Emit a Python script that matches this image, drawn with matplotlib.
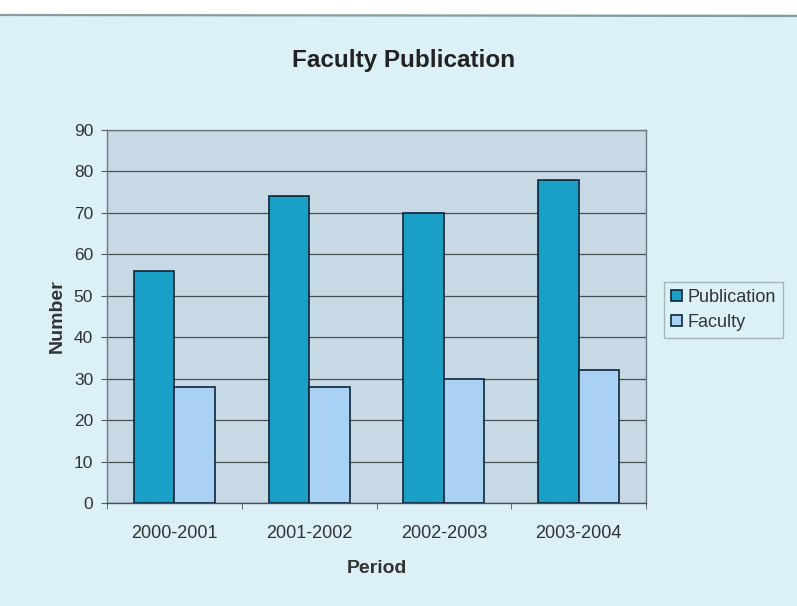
import matplotlib
matplotlib.use("Agg")
import matplotlib.pyplot as plt
import numpy as np
from matplotlib.patches import Rectangle
from matplotlib.lines import Line2D

periods = ["2000-2001", "2001-2002", "2002-2003", "2003-2004"]
publication = [56, 74, 70, 78]
faculty = [28, 28, 30, 32]
yticks = list(range(0, 91, 10))

PAPER = "#dcf0f8"
PLOT_BG = "#c6d9e5"
PUB_COLOR = "#1a9fc6"
FAC_COLOR = "#a9d1f4"
EDGE = "#10243a"

plt.rcParams["font.family"] = ["Liberation Sans", "DejaVu Sans"]

fig = plt.figure(figsize=(7.97, 6.06), dpi=100, facecolor=PAPER)

# white scan margin + paper edge at the top
fig.patches.append(Rectangle((0, 1 - 14 / 606), 1, 14 / 606, transform=fig.transFigure,
                             facecolor="white", edgecolor="none", zorder=0))
fig.lines.append(Line2D([0.0, 1.0], [1 - 15 / 606, 1 - 16 / 606], transform=fig.transFigure,
                        color="#8a9aa3", lw=1.6, zorder=1))

ax = fig.add_axes([107 / 797, 103 / 606, 539 / 797, 373 / 606])
ax.set_facecolor(PLOT_BG)

x = np.arange(len(periods))
w = 0.3
ax.bar(x - w / 2, publication, w, color=PUB_COLOR, edgecolor=EDGE, linewidth=1.2,
       label="Publication", zorder=3)
ax.bar(x + w / 2, faculty, w, color=FAC_COLOR, edgecolor=EDGE, linewidth=1.2,
       label="Faculty", zorder=3)

ax.set_xlim(-0.5, len(periods) - 0.5)
ax.set_ylim(0, 90)
ax.set_yticks(yticks)
ax.set_xticks(x)
ax.set_xticklabels(periods)
ax.set_xticks(np.arange(len(periods) + 1) - 0.5, minor=True)
ax.tick_params(axis="x", which="major", length=0, pad=16, labelsize=13, labelcolor="#333333")
ax.tick_params(axis="x", which="minor", length=4, color="#555555", direction="out")
ax.tick_params(axis="y", length=4, color="#555555", labelsize=12.5, labelcolor="#333333", pad=6)
ax.yaxis.grid(True, color="#4a4f55", lw=0.9, zorder=1)
ax.set_axisbelow(True)
for s in ax.spines.values():
    s.set_edgecolor("#6d7880")
    s.set_linewidth(1.0)
ax.spines["bottom"].set_edgecolor("#4a4f55")

ax.set_xlabel("Period", fontsize=14, fontweight="bold", color="#333333", labelpad=13)
ax.set_ylabel("Number", fontsize=14, fontweight="bold", color="#333333", labelpad=6)
fig.text(404 / 797, 1 - 60 / 606, "Faculty Publication", ha="center", va="center",
         fontsize=17.5, fontweight="bold", color="#222222")

leg = fig.legend(loc="center left", bbox_to_anchor=(664 / 797, 1 - 310 / 606),
                 frameon=True, fontsize=13, handlelength=0.6, handleheight=0.6,
                 handletextpad=0.3, borderpad=0.4, labelspacing=0.45, fancybox=False,
                 borderaxespad=0)
leg.get_frame().set_facecolor(PAPER)
leg.get_frame().set_edgecolor("#9aa5ab")
for t in leg.get_texts():
    t.set_color("#333333")

fig.savefig("out.png", dpi=100, facecolor=PAPER)
